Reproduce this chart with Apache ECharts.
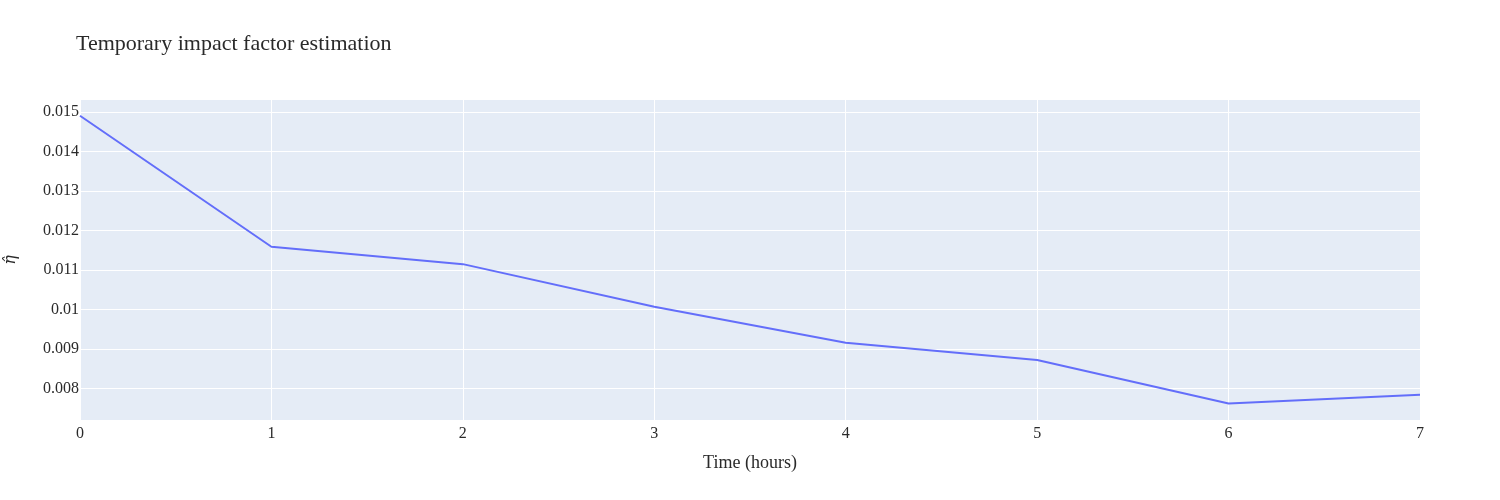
<!DOCTYPE html>
<html>
<head>
<meta charset="utf-8">
<script src="https://cdn.jsdelivr.net/npm/echarts@6/dist/echarts.min.js"></script>
<style>html,body{margin:0;padding:0;background:#fff;}#chart{width:1500px;height:500px;}</style>
</head>
<body>
<div id="chart"></div>
<script>
const hours = [0, 1, 2, 3, 4, 5, 6, 7];
const etaHat = [0.01491, 0.01159, 0.01115, 0.01007, 0.00916, 0.00872, 0.00762, 0.00784];
const yTicks = [0.008, 0.009, 0.01, 0.011, 0.012, 0.013, 0.014, 0.015];
const titleText = 'Temporary impact factor estimation';
const xTitle = 'Time (hours)';
const yTitle = '\u03B7\u0302';

const font = 'Liberation Serif, Times New Roman, serif';
const chart = echarts.init(document.getElementById('chart'));
chart.setOption({
  backgroundColor: '#ffffff',
  animation: false,
  title: {
    text: titleText, left: 76, top: 33, padding: 0,
    textStyle: {fontFamily: font, fontSize: 22, fontWeight: 'normal', color: '#2a2a2a'}
  },
  grid: {left: 80, right: 80, top: 100, bottom: 80, show: true, backgroundColor: '#E5ECF6', borderWidth: 0,
    containLabel: false, outerBoundsMode: 'none'},
  xAxis: {
    type: 'value', min: 0, max: 7, interval: 1,
    name: xTitle, nameLocation: 'middle', nameGap: 34,
    nameTextStyle: {fontFamily: font, fontSize: 18, color: '#2a2a2a'},
    axisLine: {show: false}, axisTick: {show: false},
    axisLabel: {fontFamily: font, fontSize: 16, color: '#2a2a2a', margin: 6},
    splitLine: {show: true, lineStyle: {color: '#ffffff', width: 1}}
  },
  yAxis: {
    type: 'value', min: 0.0072, max: 0.01531,
    name: yTitle, nameLocation: 'middle', nameGap: 61, nameRotate: 90,
    nameTextStyle: {fontFamily: 'DejaVu Serif', fontSize: 16, fontStyle: 'italic', color: '#2a2a2a'},
    axisLine: {show: false},
    axisTick: {show: false, customValues: yTicks},
    axisLabel: {fontFamily: font, fontSize: 16, color: '#2a2a2a', margin: 1, customValues: yTicks,
      formatter: v => String(parseFloat(Number(v).toFixed(6)))},
    splitLine: {show: true, lineStyle: {color: '#ffffff', width: 1}}
  },
  series: [{
    type: 'line', data: hours.map((h, i) => [h, etaHat[i]]),
    showSymbol: false, symbol: 'none',
    lineStyle: {color: '#636EFA', width: 2}, itemStyle: {color: '#636EFA'}
  }]
});
</script>
</body>
</html>
